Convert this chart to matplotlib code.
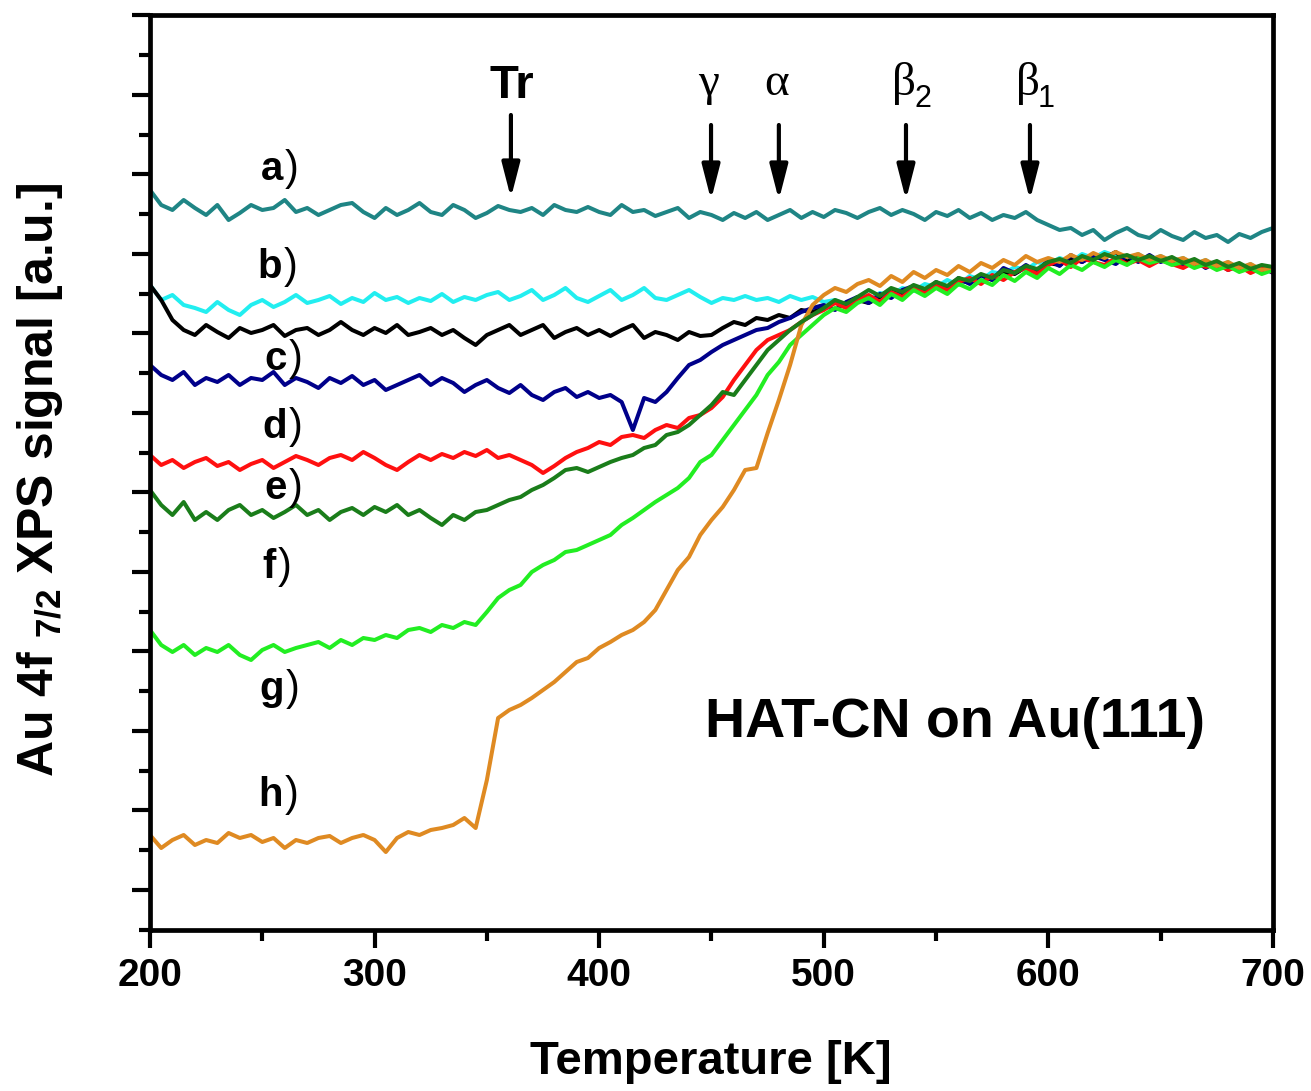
import numpy as np
import matplotlib
matplotlib.use('Agg')
import matplotlib.pyplot as plt
from matplotlib.ticker import MultipleLocator, FixedLocator

plt.rcParams['font.family'] = ['Liberation Sans', 'DejaVu Sans']
plt.rcParams['mathtext.default'] = 'regular'

# ---------------- data (Au 4f7/2 XPS signal, arbitrary units) ----------------
temperature = np.arange(200, 701, 5)

curve_a = [810, 795, 790, 800, 792, 785, 795, 780, 787, 795,
           790, 792, 800, 788, 792, 785, 790, 795, 797, 788,
           782, 792, 785, 790, 797, 788, 785, 795, 790, 782,
           787, 794, 790, 788, 792, 785, 795, 790, 788, 793,
           788, 785, 795, 788, 790, 784, 788, 792, 782, 788,
           785, 780, 787, 782, 788, 780, 785, 790, 782, 788,
           783, 790, 787, 782, 788, 792, 785, 790, 786, 780,
           788, 784, 790, 782, 787, 780, 785, 782, 788, 780,
           775, 770, 772, 765, 770, 760, 767, 772, 765, 762,
           770, 764, 760, 768, 762, 765, 758, 766, 762, 768,
           772]

curve_b = [715, 700, 705, 695, 692, 688, 698, 690, 685, 695,
           700, 693, 698, 705, 697, 700, 704, 696, 702, 698,
           707, 700, 703, 697, 702, 699, 706, 698, 703, 700,
           705, 708, 700, 704, 710, 700, 705, 712, 702, 698,
           704, 710, 700, 705, 712, 702, 700, 705, 710, 703,
           697, 702, 700, 704, 700, 702, 698, 704, 700, 703,
           698, 700, 695, 703, 700, 707, 705, 712, 709, 716,
           713, 720, 715, 724, 720, 728, 726, 733, 730, 738,
           735, 742, 738, 746, 742, 748, 744, 740, 746, 739,
           744, 738, 742, 735, 740, 733, 738, 730, 736, 728,
           732]

curve_c = [715, 700, 680, 670, 665, 675, 668, 662, 672, 667,
           670, 675, 664, 670, 672, 665, 670, 678, 670, 665,
           672, 667, 675, 665, 668, 672, 665, 670, 662, 655,
           665, 670, 675, 665, 670, 675, 662, 668, 672, 665,
           670, 664, 670, 675, 662, 668, 665, 660, 668, 664,
           665, 672, 678, 675, 682, 680, 685, 682, 690, 688,
           692, 698, 694, 700, 697, 703, 710, 706, 713, 709,
           716, 712, 720, 717, 725, 720, 728, 726, 733, 730,
           737, 735, 742, 738, 745, 742, 748, 738, 745, 740,
           742, 736, 740, 733, 738, 732, 736, 730, 735, 729,
           730]

curve_d = [635, 625, 620, 628, 615, 622, 618, 625, 615, 622,
           620, 628, 615, 622, 618, 612, 622, 617, 624, 615,
           620, 610, 615, 620, 625, 615, 622, 617, 608, 615,
           620, 612, 607, 615, 605, 600, 608, 612, 603, 608,
           602, 605, 598, 570, 602, 598, 608, 622, 635, 640,
           648, 655, 660, 665, 670, 672, 678, 682, 688, 692,
           695, 690, 698, 703, 697, 706, 702, 710, 714, 708,
           718, 712, 722, 716, 725, 720, 732, 727, 735, 728,
           740, 734, 745, 738, 744, 740, 736, 744, 738, 745,
           738, 742, 735, 740, 732, 738, 730, 735, 728, 733,
           727]

curve_e = [545, 535, 540, 532, 538, 542, 534, 538, 530, 536,
           540, 532, 538, 544, 540, 535, 542, 545, 540, 548,
           542, 535, 530, 538, 545, 540, 546, 542, 548, 544,
           550, 542, 545, 540, 535, 527, 534, 542, 548, 552,
           558, 555, 563, 565, 562, 570, 575, 572, 582, 585,
           592, 603, 620, 635, 650, 660, 665, 670, 678, 685,
           690, 697, 692, 700, 705, 698, 708, 703, 712, 707,
           715, 710, 718, 722, 716, 725, 720, 728, 732, 726,
           735, 740, 733, 742, 738, 735, 742, 736, 740, 734,
           740, 736, 732, 738, 733, 736, 730, 734, 727, 732,
           728]

curve_f = [510, 495, 485, 498, 480, 488, 480, 490, 495, 485,
           490, 482, 488, 495, 485, 490, 480, 488, 492, 485,
           493, 488, 495, 485, 490, 482, 475, 485, 480, 488,
           490, 495, 500, 503, 510, 515, 522, 530, 532, 528,
           533, 538, 542, 545, 552, 555, 565, 568, 575, 585,
           595, 608, 605, 620, 635, 650, 660, 670, 678, 685,
           692, 700, 696, 703, 710, 704, 712, 708, 715, 711,
           718, 714, 722, 719, 726, 722, 730, 727, 734, 731,
           738, 741, 737, 744, 740, 746, 742, 745, 740, 744,
           739, 743, 737, 741, 735, 739, 733, 737, 731, 735,
           733]

curve_g = [370, 355, 348, 355, 345, 352, 348, 355, 345, 340,
           350, 355, 348, 352, 355, 358, 352, 360, 355, 362,
           360, 365, 362, 370, 372, 368, 375, 372, 378, 375,
           388, 402, 410, 415, 428, 435, 440, 448, 450, 455,
           460, 465, 475, 482, 490, 498, 505, 512, 522, 538,
           545, 560, 575, 590, 605, 625, 638, 655, 665, 675,
           685, 692, 688, 697, 702, 695, 706, 700, 710, 704,
           712, 706, 716, 711, 720, 715, 725, 719, 728, 722,
           732, 726, 735, 730, 738, 733, 740, 735, 742, 737,
           740, 735, 738, 732, 736, 730, 734, 728, 732, 726,
           730]

curve_h = [165, 152, 160, 165, 155, 160, 157, 167, 162, 165,
           158, 162, 152, 160, 157, 162, 164, 157, 162, 165,
           160, 148, 162, 168, 165, 170, 172, 175, 182, 172,
           220, 282, 290, 295, 302, 310, 318, 328, 338, 342,
           352, 358, 365, 370, 378, 390, 410, 430, 443, 465,
           480, 493, 510, 530, 532, 567, 600, 635, 675, 695,
           705, 712, 708, 716, 720, 714, 724, 718, 728, 722,
           730, 725, 734, 728, 737, 732, 740, 735, 744, 738,
           742, 738, 745, 740, 747, 742, 748, 743, 746, 740,
           744, 739, 742, 736, 740, 734, 738, 732, 736, 730,
           733]

series_labels = ['a', 'b', 'c', 'd', 'e', 'f', 'g', 'h']
series_values = [curve_a, curve_b, curve_c, curve_d, curve_e, curve_f, curve_g, curve_h]

# desorption features marked by arrows (temperature in K)
feature_names = ['Tr', 'γ', 'α', 'β', 'β']
feature_subscripts = ['', '', '', '2', '1']
feature_temps = [360.7, 449.8, 480.0, 536.6, 591.8]

x_ticks = [200, 300, 400, 500, 600, 700]

# ---------------- styling / layout ----------------
colors = {'a': '#1f8585', 'b': '#22eef0', 'c': '#000000', 'd': '#00008a',
          'e': '#ff1010', 'f': '#1a7d1a', 'g': '#22ee22', 'h': '#df8a22'}
draw_order = ['a', 'b', 'c', 'd', 'e', 'g', 'h', 'f']
label_anchor = {'a': (259.2, 820), 'b': (258.8, 722), 'c': (261.0, 630), 'd': (261.0, 562),
                'e': (261.0, 501), 'f': (256.1, 422), 'g': (259.7, 300), 'h': (259.2, 194)}

fig = plt.figure(figsize=(13.11, 10.91), dpi=100)
ax = fig.add_axes([0.1144, 0.1478, 0.8566, 0.8380])

lookup = dict(zip(series_labels, series_values))
for key in draw_order:
    ax.plot(temperature, lookup[key], color=colors[key], lw=2.9, solid_joinstyle='round')

ax.set_xlim(200, 700)
ax.set_ylim(70.25, 984.5)

ax.xaxis.set_major_locator(FixedLocator(x_ticks))
ax.xaxis.set_minor_locator(MultipleLocator(50))
ax.yaxis.set_major_locator(FixedLocator(110 + 79.5 * np.arange(12)))
ax.yaxis.set_minor_locator(FixedLocator(70.25 + 79.5 * np.arange(12)))
ax.tick_params(which='major', direction='out', length=13, width=3, labelsize=28, pad=7)
ax.tick_params(which='minor', direction='out', length=8, width=3)
ax.tick_params(axis='y', labelleft=False)
ax.set_xticklabels([str(t) for t in x_ticks], fontweight='bold')
for sp in ax.spines.values():
    sp.set_linewidth(3.4)

# curve labels
for key in series_labels:
    t, v = label_anchor[key]
    ax.text(t, v, key, ha='right', va='baseline', fontsize=29, fontweight='bold')
    ax.text(t + 0.8, v, ')', ha='left', va='baseline', fontsize=30, fontweight='normal')

# arrows + feature labels
for name, sub, t in zip(feature_names, feature_subscripts, feature_temps):
    if name == 'Tr':
        ax.annotate('', xy=(t, 802), xytext=(t, 885),
                    arrowprops=dict(arrowstyle='-|>,head_length=0.7,head_width=0.18',
                                    lw=3, color='black', mutation_scale=30,
                                    shrinkA=0, shrinkB=0))
        ax.text(t + 0.5, 902, name, ha='center', va='baseline', fontsize=34, fontweight='bold')
    else:
        ax.annotate('', xy=(t, 800), xytext=(t, 875),
                    arrowprops=dict(arrowstyle='-|>,head_length=0.7,head_width=0.18',
                                    lw=3, color='black', mutation_scale=30,
                                    shrinkA=0, shrinkB=0))
        ax.text(t - 1.0, 905, name, ha='center', va='baseline', fontsize=34,
                family=['Liberation Serif', 'DejaVu Serif'])
        if sub:
            ax.text(t + 3.6, 893, sub, ha='left', va='baseline', fontsize=22,
                    family=['Liberation Sans', 'DejaVu Sans'])

ax.text(558.4, 263, 'HAT-CN on Au(111)', ha='center', va='baseline', fontsize=40, fontweight='bold')

fig.text(711 / 1311, 1 - 1062 / 1091, 'Temperature [K]', ha='center', va='center',
         fontsize=34, fontweight='bold')
fig.text(40 / 1311, 1 - 480 / 1091, 'Au 4f $_{7/2}$ XPS signal [a.u.]', ha='center', va='center',
         rotation=90, fontsize=36, fontweight='bold')

fig.savefig('out.png', dpi=100)
